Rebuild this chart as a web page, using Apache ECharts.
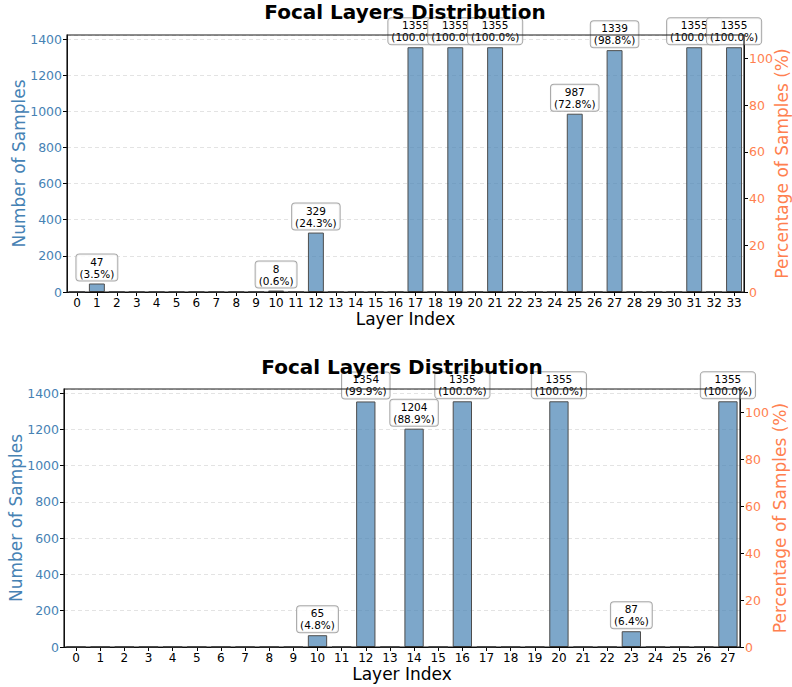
<!DOCTYPE html>
<html>
<head>
<meta charset="utf-8">
<script src="https://cdn.jsdelivr.net/npm/echarts@6/dist/echarts.min.js"></script>
<style>
html,body{margin:0;padding:0;background:#fff;}
#chart{width:792px;height:687px;}
</style>
</head>
<body>
<div id="chart"></div>
<script>
const TOTAL_SAMPLES = 1355;
const CHART_TITLE = 'Focal Layers Distribution';

const layersTop = ['0','1','2','3','4','5','6','7','8','9','10','11','12','13','14','15','16','17','18','19','20','21','22','23','24','25','26','27','28','29','30','31','32','33'];
const countsTop = [0,47,0,0,0,0,0,0,0,0,8,0,329,0,0,0,0,1355,0,1355,0,1355,0,0,0,987,0,1339,0,0,0,1355,0,1355];

const layersBottom = ['0','1','2','3','4','5','6','7','8','9','10','11','12','13','14','15','16','17','18','19','20','21','22','23','24','25','26','27'];
const countsBottom = [0,0,0,0,0,0,0,0,0,0,65,0,1354,0,1204,0,1355,0,0,0,1355,0,0,87,0,0,0,1355];

const leftTicks = { min: 0, interval: 200 };
const rightTicks = { min: 0, max: 110, interval: 20 };

const FONT = '"DejaVu Sans", "Liberation Sans", sans-serif';
const STEEL = '#4682B4';
const CORAL = '#FF7F50';

function countMax(arr) { return Math.max.apply(null, arr) * 1.05; }

function buildData(arr) {
  return arr.map(v => ({ value: v, label: { show: v > 0 } }));
}

const grids = [
  { left: 67, right: 48, top: 35, height: 257 },
  { left: 64, right: 52, top: 389, height: 258 }
];

function xAxisFor(idx, cats) {
  return {
    type: 'category', gridIndex: idx, data: cats,
    name: 'Layer Index', nameLocation: 'middle', nameGap: 18, nameMoveOverlap: false,
    nameTextStyle: { fontSize: 17, color: '#000', fontFamily: FONT },
    axisLine: { show: true, lineStyle: { color: '#000', width: 1 } },
    axisTick: { show: true, alignWithLabel: true, length: 4, lineStyle: { color: '#000' } },
    axisLabel: { interval: 0, fontSize: 12, color: '#000', fontFamily: FONT, margin: 5 },
    splitLine: { show: false }
  };
}

function leftAxisFor(idx, maxV, gap) {
  return {
    type: 'value', gridIndex: idx, position: 'left',
    min: leftTicks.min, max: maxV, interval: leftTicks.interval,
    name: 'Number of Samples', nameLocation: 'middle', nameGap: gap, nameMoveOverlap: false,
    nameTextStyle: { fontSize: 17, color: STEEL, fontFamily: FONT },
    axisLine: { show: true, lineStyle: { color: '#000', width: 1 } },
    axisTick: { show: true, length: 4, lineStyle: { color: '#000' } },
    axisLabel: { fontSize: 12.5, color: STEEL, fontFamily: FONT, margin: 5, showMaxLabel: false,
                 formatter: v => String(v) },
    splitLine: { show: true, lineStyle: { color: '#dcdcdc', type: [4, 3], width: 0.8 } }
  };
}

function rightAxisFor(idx, gap) {
  return {
    type: 'value', gridIndex: idx, position: 'right',
    min: rightTicks.min, max: rightTicks.max, interval: rightTicks.interval,
    name: 'Percentage of Samples (%)', nameLocation: 'middle', nameGap: gap, nameMoveOverlap: false,
    nameTextStyle: { fontSize: 17, color: CORAL, fontFamily: FONT },
    axisLine: { show: true, lineStyle: { color: '#000', width: 1 } },
    axisTick: { show: true, length: 4, lineStyle: { color: '#000' } },
    axisLabel: { fontSize: 12.5, color: CORAL, fontFamily: FONT, margin: 5, showMaxLabel: false,
                 formatter: v => String(v) },
    splitLine: { show: false }
  };
}

function barSeries(xi, yi, arr) {
  return {
    type: 'bar', xAxisIndex: xi, yAxisIndex: yi,
    data: buildData(arr), barWidth: '80%',
    itemStyle: { color: 'rgba(70,130,180,0.7)', borderColor: '#4d4d4d', borderWidth: 1 },
    label: {
      position: 'top', distance: 3,
      fontSize: 10.5, lineHeight: 12, color: '#000', fontFamily: FONT,
      backgroundColor: 'rgba(255,255,255,0.85)', borderColor: '#a8a8a8', borderWidth: 1,
      borderRadius: 3, padding: [1, 3],
      formatter: p => p.value + '\n(' + (p.value / TOTAL_SAMPLES * 100).toFixed(1) + '%)'
    },
    emphasis: { disabled: true }
  };
}

const chart = echarts.init(document.getElementById('chart'), null, { renderer: 'svg' });
chart.setOption({
  animation: false,
  backgroundColor: '#fff',
  title: [
    { text: CHART_TITLE, left: 405, top: 2, padding: 0, textAlign: 'center',
      textStyle: { fontSize: 20, fontWeight: 'bold', color: '#000', fontFamily: FONT } },
    { text: CHART_TITLE, left: 402, top: 357, padding: 0, textAlign: 'center',
      textStyle: { fontSize: 20, fontWeight: 'bold', color: '#000', fontFamily: FONT } }
  ],
  grid: grids.map(g => Object.assign({ show: true, borderColor: '#1a1a1a', borderWidth: 1.2,
    backgroundColor: 'transparent', z: 10, containLabel: false, outerBoundsMode: 'none' }, g)),
  xAxis: [xAxisFor(0, layersTop), xAxisFor(1, layersBottom)],
  yAxis: [
    leftAxisFor(0, countMax(countsTop), 40), rightAxisFor(0, 29),
    leftAxisFor(1, countMax(countsBottom), 40), rightAxisFor(1, 31)
  ],
  series: [barSeries(0, 0, countsTop), barSeries(1, 2, countsBottom)]
});
</script>
</body>
</html>
